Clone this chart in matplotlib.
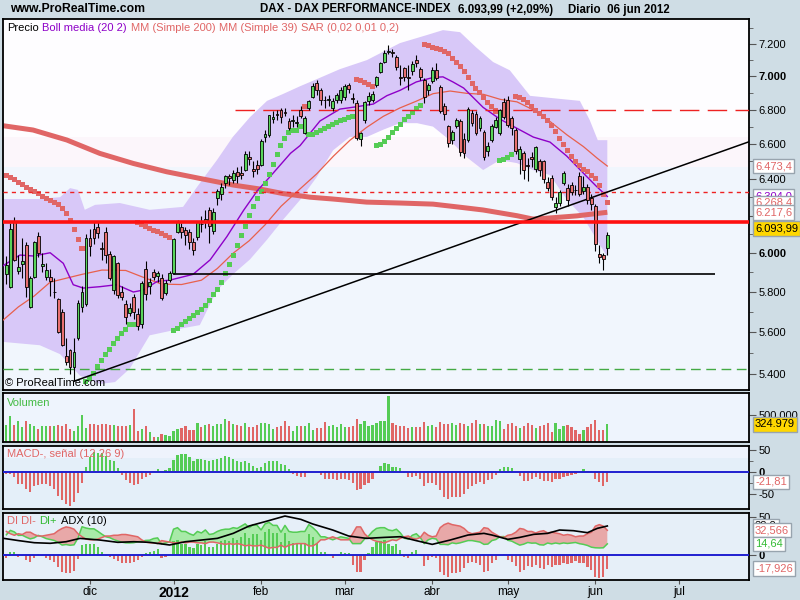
import numpy as np
import matplotlib
matplotlib.use('Agg')
import matplotlib.pyplot as plt
from matplotlib.patches import Rectangle

plt.rcParams['font.family'] = ['Liberation Sans', 'DejaVu Sans']

# ---------------- data (bar index 0 = 2 nov 2011, last = 6 jun 2012) ----------------
open_ = [5890, 5827, 6171, 5905, 5945, 6042, 5727, 5878, 6090, 5935,
         5878, 5875, 5800, 5765, 5700, 5487, 5515, 5433, 5573, 5727,
         5740, 6080, 6130, 6140, 6025, 6110, 5998, 5810, 5950, 5800,
         5740, 5695, 5775, 5690, 5640, 5920, 5830, 5900, 5880, 5870,
         5795, 5860, 5898, 6110, 6140, 6120, 6110, 6060, 6085, 6157,
         6165, 6230, 6115, 6295, 6320, 6380, 6416, 6395, 6440, 6435,
         6450, 6525, 6455, 6480, 6480, 6640, 6650, 6745, 6775, 6795,
         6785, 6730, 6735, 6720, 6800, 6665, 6810, 6877, 6960, 6915,
         6860, 6858, 6810, 6855, 6855, 6877, 6948, 6870, 6840, 6630,
         6740, 6850, 6860, 6950, 7028, 7090, 7150, 7150, 7120, 6995,
         7050, 6995, 7030, 7100, 7045, 6975, 6915, 6970, 7040, 6935,
         6820, 6705, 6620, 6705, 6732, 6628, 6622, 6781, 6773, 6689,
         6670, 6560, 6622, 6699, 6661, 6845, 6857, 6748, 6680, 6511,
         6545, 6482, 6526, 6455, 6501, 6501, 6382, 6405, 6248, 6266,
         6377, 6352, 6367, 6342, 6419, 6335, 6358, 6293, 6253, 5995,
         5990, 6025]
high = [5985, 6160, 6193, 5990, 6080, 6060, 5880, 6064, 6110, 6000,
        5950, 5920, 5870, 5770, 5715, 5570, 5520, 5570, 5760, 5830,
        6100, 6130, 6165, 6165, 6060, 6140, 6010, 5990, 5955, 5830,
        5760, 5745, 5790, 5720, 5855, 5960, 5870, 5915, 5905, 5890,
        5860, 5905, 6080, 6175, 6160, 6140, 6130, 6080, 6170, 6200,
        6230, 6245, 6240, 6345, 6380, 6425, 6430, 6450, 6470, 6475,
        6560, 6560, 6500, 6510, 6625, 6680, 6770, 6790, 6800, 6810,
        6810, 6750, 6770, 6760, 6820, 6760, 6860, 6960, 6980, 6930,
        6880, 6890, 6870, 6900, 6935, 6955, 6960, 6900, 6860, 6670,
        6850, 6905, 6910, 7000, 7090, 7160, 7195, 7170, 7130, 7070,
        7060, 7070, 7095, 7130, 7060, 6990, 6960, 7060, 7085, 6945,
        6840, 6710, 6680, 6750, 6745, 6660, 6815, 6800, 6790, 6765,
        6680, 6610, 6715, 6755, 6805, 6870, 6880, 6765, 6690, 6585,
        6560, 6520, 6555, 6590, 6515, 6510, 6410, 6425, 6300, 6340,
        6445, 6375, 6385, 6365, 6440, 6420, 6375, 6315, 6262, 6045,
        6000, 6110]
low = [5840, 5820, 5960, 5890, 5870, 5776, 5720, 5870, 5980, 5900,
       5860, 5780, 5770, 5595, 5535, 5440, 5400, 5366, 5560, 5700,
       5730, 5985, 6050, 6080, 5965, 5950, 5860, 5790, 5770, 5760,
       5640, 5680, 5665, 5610, 5620, 5760, 5790, 5860, 5850, 5760,
       5785, 5850, 5890, 6105, 6080, 6045, 6020, 5990, 6070, 6110,
       6135, 6055, 6100, 6255, 6285, 6350, 6370, 6380, 6380, 6400,
       6445, 6480, 6410, 6430, 6475, 6610, 6640, 6720, 6740, 6720,
       6760, 6680, 6700, 6700, 6750, 6655, 6800, 6870, 6890, 6830,
       6810, 6820, 6790, 6840, 6840, 6860, 6900, 6840, 6620, 6590,
       6720, 6830, 6845, 6935, 7020, 7080, 7140, 7120, 7040, 6950,
       6970, 6920, 7010, 7060, 6980, 6840, 6890, 6960, 6975, 6780,
       6740, 6580, 6600, 6690, 6530, 6520, 6610, 6705, 6650, 6675,
       6505, 6530, 6610, 6690, 6650, 6745, 6695, 6650, 6540, 6430,
       6400, 6390, 6470, 6440, 6420, 6380, 6335, 6285, 6215, 6250,
       6365, 6250, 6310, 6310, 6305, 6320, 6260, 6230, 6010, 5950,
       5912, 5990]
close = [5938, 6130, 5965, 5930, 5957, 5827, 5870, 6057, 6000, 5945,
         5912, 5855, 5802, 5600, 5540, 5456, 5433, 5505, 5743, 5800,
         6080, 6035, 6080, 6105, 6020, 5990, 5870, 5985, 5785, 5773,
         5675, 5720, 5700, 5633, 5848, 5790, 5853, 5878, 5895, 5772,
         5848, 5898, 6075, 6166, 6111, 6095, 6057, 6017, 6163, 6152,
         6179, 6143, 6220, 6332, 6354, 6416, 6404, 6436, 6419, 6421,
         6539, 6511, 6444, 6458, 6616, 6655, 6766, 6754, 6766, 6755,
         6780, 6692, 6738, 6728, 6765, 6751, 6849, 6943, 6915, 6855,
         6855, 6862, 6854, 6885, 6915, 6941, 6921, 6866, 6633, 6660,
         6843, 6880, 6895, 6995, 7084, 7146, 7158, 7145, 7060, 6990,
         6995, 6990, 7078, 7080, 6995, 6875, 6947, 7040, 6990, 6790,
         6775, 6606, 6670, 6740, 6551, 6545, 6801, 6722, 6664, 6748,
         6522, 6587, 6705, 6738, 6797, 6757, 6709, 6689, 6558, 6568,
         6451, 6473, 6514, 6579, 6451, 6399, 6349, 6302, 6266, 6326,
         6432, 6284, 6330, 6338, 6320, 6358, 6284, 6262, 6047, 5978,
         5969, 6093.99]
volume_k = [321, 475, 321, 383, 271, 383, 333, 290, 247, 290,
            290, 290, 290, 321, 290, 333, 241, 210, 302, 506,
            259, 339, 333, 321, 339, 333, 321, 321, 290, 290,
            302, 309, 617, 210, 247, 290, 185, 93, 86, 148,
            136, 105, 210, 247, 259, 290, 228, 228, 358, 271,
            321, 339, 290, 339, 339, 426, 395, 333, 309, 290,
            358, 284, 271, 321, 352, 346, 339, 241, 271, 290,
            395, 290, 210, 290, 302, 302, 346, 228, 259, 259,
            364, 290, 321, 271, 333, 271, 271, 290, 432, 339,
            395, 302, 321, 352, 395, 395, 858, 352, 321, 290,
            290, 259, 271, 271, 271, 364, 290, 309, 271, 376,
            339, 339, 352, 309, 352, 339, 290, 352, 413, 339,
            333, 290, 302, 413, 383, 247, 333, 352, 290, 259,
            290, 352, 321, 259, 302, 321, 352, 185, 352, 241,
            302, 309, 278, 228, 148, 228, 278, 333, 413, 216,
            216, 324.979]
macd_hist = [-4.5, -4, -11, -26, -27, -38, -44, -32, -29, -27,
             -27, -32, -37, -53, -62, -72, -77, -68, -47, -23,
             11, 35, 46, 44, 43, 37, 28, 26, 9, -6,
             -17, -25, -29, -26, -16, -10, -6, 4, 7, 4,
             5, 10, 28, 39, 41, 41, 35, 26, 30, 29,
             28, 26, 28, 31, 33, 37, 35, 31, 26, 24,
             26, 20, 14, 9, 13, 20, 26, 26, 26, 19,
             17, 8, -4, -8, -11, -10, 0, 0, 0, -5,
             -14, -16, -16, -17, -16, -16, -17, -23, -40, -38,
             -29, -23, -14, 4, 14, 22, 19, 13, 11, 9,
             -2, -10, -10, -8, -15, -30, -23, -23, -29, -40,
             -55, -61, -56, -56, -56, -50, -38, -31, -27, -21,
             -26, -17, -14, -5, 7, 11, 11, 9, 0, -8,
             -19, -19, -16, -11, -16, -19, -19, -21, -16, -14,
             -11, -8, -6, -4, 0, 7, 4, 2, -14, -21,
             -32, -21.81]
di_minus = [31, 28, 26, 28, 27, 30, 30, 27, 25, 25,
            26, 27, 28, 32, 35, 37, 36, 34, 28, 24,
            21, 20, 20, 21, 23, 25, 25, 26, 26, 27,
            27, 26, 25, 24, 20, 17, 16, 16, 15, 19,
            18, 17, 16, 16, 17, 16, 17, 17, 16, 16,
            15, 17, 17, 16, 15, 14, 15, 14, 15, 14,
            12, 13, 12, 12, 13, 11, 9, 10, 10, 13,
            10, 13, 14, 15, 15, 15, 12, 12, 15, 20,
            20, 22, 24, 22, 20, 20, 20, 28, 37, 37,
            28, 23, 20, 18, 17, 16, 18, 20, 19, 22,
            24, 25, 22, 21, 23, 30, 26, 24, 25, 36,
            40, 42, 40, 39, 38, 35, 30, 28, 29, 30,
            36, 35, 30, 27, 24, 23, 26, 27, 30, 35,
            34, 31, 31, 29, 31, 32, 29, 30, 29, 28,
            26, 27, 26, 24, 25, 25, 28, 30, 38, 40,
            38, 32.566]
di_plus = [26.6, 32.4, 30.4, 25.8, 26, 23.4, 21.2, 22.6, 25.9, 24,
           21.6, 20.4, 19.2, 16.6, 13.1, 13.8, 12.8, 13.4, 22.3, 37.2,
           35.5, 34.5, 34.5, 31.1, 27.4, 24, 22.8, 20.3, 18.5, 16.9,
           16, 15.9, 16.2, 17.4, 17.8, 19.2, 19.5, 21.7, 22.5, 14.6,
           15.8, 17.5, 34, 36, 31, 31, 28, 26, 31, 29,
           33, 27, 28, 31, 33, 34, 34, 36, 35, 38,
           41, 36, 40, 39, 33, 41, 43, 39, 39, 30,
           39, 31, 30, 30, 31, 31, 40, 36, 31, 24,
           24, 22, 20, 22, 24, 23, 22, 15, 15, 15,
           21, 25, 31, 35, 36, 36, 33, 32, 34, 29,
           22, 21, 26, 28, 23, 15, 20, 22, 21, 14,
           14, 13.5, 16, 15, 16, 17.5, 19, 19, 18, 17,
           14, 14.4, 19, 20.4, 24, 24.3, 19.4, 18.2, 15.5, 13,
           14.3, 16.5, 15.6, 15.8, 13.5, 13.1, 15.8, 14.6, 15.8, 14.8,
           15.9, 15.2, 15.9, 16.5, 14.9, 14, 12.6, 10.3, 9.5, 9.3,
           9.5, 14.64]
adx_idx = [-0.8, 3, 7, 11, 15, 18.5, 23.5, 28, 32, 36, 41, 45, 49, 53, 57, 61, 65, 70,
           74, 77, 82, 86, 90.5, 95, 99, 103, 107, 111.5, 116, 120, 122, 126, 129,
           132.5, 136, 139, 142.5, 146, 148.5, 151]
adx_val = [22, 19, 16.2, 15.4, 17.5, 21.9, 19.7, 16.7, 17.5, 16.7, 13.2, 17.5, 19.7,
           21.9, 28.5, 38.2, 43.9, 51.3, 46.9, 40.8, 32.9, 25, 21.9, 23.2, 24.1, 18.9,
           14, 19.7, 26.3, 28.5, 26.3, 20.6, 23.2, 27.2, 28.5, 32.9, 32, 29.4, 35.1, 38.2]

bb_up_idx = [-0.8, 8, 13.5, 16, 18, 19.7, 22.3, 28.5, 36, 44.4, 47.9, 52.9, 56.9, 61.2,
             65.5, 69.5, 73.8, 78, 83.8, 90.6, 98.9, 105.7, 109.7, 114, 118, 122.3,
             126.5, 131.6, 139, 144.1, 146.6, 148.6, 151]
bb_up = [6290, 6290, 6300, 6350, 6340, 6231, 6258, 6268, 6231, 6247, 6356, 6507, 6640,
         6755, 6852, 6893, 6940, 6983, 7044, 7100, 7206, 7257, 7288, 7275, 7180, 7088,
         7037, 6882, 6864, 6852, 6737, 6621, 6621]
bb_lo_idx = [-0.8, 8.4, 13.5, 18.5, 23.5, 27.3, 31, 36, 44.4, 48.6, 52.9, 56.9, 61.2,
             65.5, 69.5, 73.8, 78, 82.1, 86.3, 90.6, 94.6, 98.9, 103.2, 107.2, 111.4,
             115.7, 119.8, 124, 128.3, 132.3, 136.6, 140.9, 144.9, 149.1, 151]
bb_lo = [5553, 5537, 5494, 5392, 5353, 5362, 5425, 5585, 5620, 5635, 5808, 5890, 5967,
         6071, 6177, 6285, 6412, 6563, 6640, 6640, 6681, 6720, 6720, 6700, 6621, 6523,
         6451, 6507, 6490, 6451, 6423, 6285, 6193, 6044, 5982]
bb_mid_idx = [-0.8, 3.4, 6.8, 11, 14.3, 16.8, 19.3, 23.5, 27.7, 31.9, 34.4, 38, 41, 46.9,
              51.2, 55.4, 59.6, 63, 66.3, 71.4, 73.8, 78.8, 83.8, 88, 92.2, 95.6, 98.9,
              103, 107.2, 109.7, 112.2, 114.9, 119.8, 124, 128.2, 132.4, 136.6, 140.8,
              145, 148.3, 151]
bb_mid = [5935, 5990, 5985, 6002, 5947, 5837, 5820, 5827, 5837, 5800, 5810, 5855, 5860,
          5890, 5965, 6087, 6228, 6334, 6415, 6546, 6590, 6733, 6803, 6817, 6833, 6883,
          6915, 6966, 6993, 6997, 6966, 6929, 6813, 6744, 6691, 6639, 6610, 6530, 6433,
          6359, 6304]
ma39_idx = [-0.8, 3, 7, 11, 15, 19, 24, 30, 34, 39, 44, 49, 53, 57, 61, 65, 69, 73, 78,
            82.2, 86.3, 90.5, 94.7, 98.9, 103, 107.2, 111.5, 115.7, 119.9, 124.1, 128.3,
            132.5, 136.7, 140.9, 145, 148.5, 151]
ma39 = [5660, 5725, 5780, 5850, 5870, 5890, 5912, 5910, 5878, 5840, 5838, 5860, 5920,
        6000, 6065, 6150, 6250, 6330, 6430, 6530, 6620, 6695, 6760, 6810, 6850, 6895,
        6911, 6897, 6891, 6861, 6846, 6797, 6728, 6651, 6584, 6517, 6473.4]
ma200_idx = [-0.8, 6.7, 15.2, 23.5, 31.9, 40.3, 48.6, 57, 63.7, 69.5, 76.3, 82, 90.5,
             98.9, 107.2, 114, 119.8, 128.3, 132.3, 136.6, 143.3, 151]
ma200 = [6705, 6680, 6622, 6545, 6488, 6441, 6404, 6367, 6345, 6320, 6300, 6290, 6273,
         6268, 6262, 6245, 6230, 6199, 6181, 6187, 6198, 6217.6]
sar_start = 6423            # SAR value on the first bar (short side)
sar_start_ep = 5720         # extreme point of the running down-move at the first bar
sar_params = (0.02, 0.01, 0.2)

# drawn lines: support/resistance levels and trend line
level_thick = 6165
level_dotted = 6330
level_dash_long = 6800
level_dash_long_from = 57.4
level_green = 5424
level_black = 5893
level_black_span = (41.9, 178)
trend_idx = [17, 186.6]
trend_val = [5366, 6612]

month_idx = [21, 42, 64, 85, 107, 126, 148, 169]
month_labels = ['dic', '2012', 'feb', 'mar', 'abr', 'may', 'jun', 'jul']
price_ticks = [5400, 5600, 5800, 6000, 6200, 6400, 6600, 6800, 7000, 7200]

# ---------------- helpers ----------------
open_ = np.array(open_, float); high = np.array(high, float)
low = np.array(low, float); close = np.array(close, float)
volume = np.array(volume_k, float) * 1000
macd_hist = np.array(macd_hist, float)
di_plus = np.array(di_plus, float); di_minus = np.array(di_minus, float)
n = len(close)
x = np.arange(n)


def es(v, d):
    s = f"{v:,.{d}f}"
    return s.replace(',', 'X').replace('.', ',').replace('X', '.')


def psar(hi, lo, start, step, amax, s0, ep0):
    sar = np.empty(len(hi)); tr = np.empty(len(hi), int)
    trend = -1; ep = min(ep0, lo[0]); af = start
    sar[0] = s0; tr[0] = trend
    for i in range(1, len(hi)):
        s = sar[i-1] + af * (ep - sar[i-1])
        if trend > 0:
            s = min(s, lo[i-1], lo[max(i-2, 0)])
            if lo[i] < s:
                trend = -1; s = ep; ep = lo[i]; af = start
            elif hi[i] > ep:
                ep = hi[i]; af = min(af + step, amax)
        else:
            s = max(s, hi[i-1], hi[max(i-2, 0)])
            if hi[i] > s:
                trend = 1; s = ep; ep = hi[i]; af = start
            elif lo[i] < ep:
                ep = lo[i]; af = min(af + step, amax)
        sar[i] = s; tr[i] = trend
    return sar, tr


sar, sar_tr = psar(high, low, *sar_params, sar_start, sar_start_ep)

W, H = 800, 600
BG = '#cfdde5'
GREEN = '#55cc55'
RED = '#e06666'
CG = '#5ad45a'
CR = '#e87070'
PURPLE = '#8e00c8'
fig = plt.figure(figsize=(8, 6), dpi=100, facecolor=BG)


def px_axes(x0, y0, x1, y1):
    a = fig.add_axes([x0 / W, 1 - y1 / H, (x1 - x0) / W, (y1 - y0) / H])
    for sp in a.spines.values():
        sp.set_linewidth(1.3); sp.set_color('black')
    a.set_xlim(-0.85, 186.6)
    a.tick_params(axis='x', bottom=False, labelbottom=False)
    a.yaxis.tick_right()
    a.tick_params(axis='y', which='both', direction='out', colors='#555555',
                  labelcolor='black', labelsize=8, pad=2)
    a.tick_params(axis='y', which='major', length=5)
    a.tick_params(axis='y', which='minor', length=3)
    return a


ax = px_axes(3, 19, 749, 390)
axv = px_axes(3, 393, 749, 442)
axm = px_axes(3, 446, 749, 509)
axd = px_axes(3, 513, 749, 580)

# ---------------- main panel ----------------
ax.set_yscale('log')
ax.set_ylim(5325, 7359)
ax.set_facecolor('#f1f6fd')
ax.add_patch(Rectangle((0, 0.682), 1, 0.318, transform=ax.transAxes, fc='#fefdff', lw=0, zorder=0))
ax.add_patch(Rectangle((0, 0.601), 1, 0.081, transform=ax.transAxes, fc='#fcf6fb', lw=0, zorder=0))

ax.fill(np.r_[bb_up_idx, bb_lo_idx[::-1]], np.r_[bb_up, bb_lo[::-1]], color='#d8c8f8', lw=0, zorder=1)
ax.plot(ma200_idx, ma200, color=RED, lw=3.6, solid_capstyle='butt', zorder=2)
ax.plot(ma39_idx, ma39, color='#e8604c', lw=0.9, zorder=3)
ax.plot(bb_mid_idx, bb_mid, color=PURPLE, lw=1.0, zorder=3)

ax.scatter(x, sar, marker='s', s=13, c=np.where(sar_tr > 0, GREEN, RED), linewidths=0, zorder=4)

ax.axhline(level_green, color='#44aa44', lw=1, dashes=(7, 4), zorder=5)
ax.axhline(level_dotted, color='#ee2222', lw=1, dashes=(3, 3), zorder=5)
ax.hlines(level_dash_long, level_dash_long_from, 186.6, color='#ee2222', lw=1, linestyles=[(0, (14, 6))], zorder=5)
ax.hlines(level_black, *level_black_span, color='black', lw=1.2, zorder=5)
ax.plot(trend_idx, trend_val, color='black', lw=1.1, zorder=5)

up = close >= open_
blo = np.minimum(open_, close); bhi = np.maximum(open_, close)
ax.vlines(x, low, high, color='black', lw=0.8, zorder=6)
ax.bar(x, np.maximum(bhi - blo, 2.5), bottom=blo, width=0.72, color=np.where(up, CG, CR),
       edgecolor='black', linewidth=0.6, zorder=7)
ax.axhline(level_thick, color='#ff1010', lw=2.6, zorder=8)

ax.set_yticks(price_ticks, [es(v, 0) for v in price_ticks])
ax.set_yticks(np.arange(5400, 7400, 100), minor=True)
ax.yaxis.set_minor_formatter(plt.NullFormatter())
for lab in ax.get_yticklabels():
    if lab.get_text() in ('7.000', '6.000'):
        lab.set_fontweight('bold')


def side_label(a, val, text, color, fc='white', va='center', dy=0, z=10):
    a.annotate(text, xy=(1, val), xycoords=('axes fraction', 'data'), xytext=(6, dy),
               textcoords='offset pixels', ha='left', va=va, fontsize=8, color=color,
               zorder=z, annotation_clip=False,
               bbox=dict(boxstyle='square,pad=0.2', fc=fc, ec='#98a4ae', lw=1))


side_label(ax, bb_mid[-1], es(bb_mid[-1], 1), PURPLE, z=9)
side_label(ax, ma39[-1], es(ma39[-1], 1), RED)
side_label(ax, sar[-1], es(sar[-1], 1), RED)
side_label(ax, ma200[-1], es(ma200[-1], 1), RED)
side_label(ax, close[-1], es(close[-1], 2), 'black', fc='#ffd700', va='bottom', dy=2)

ax.text(0.003, 0.005, '\u00a9 ProRealTime.com', transform=ax.transAxes, fontsize=8,
        ha='left', va='bottom', zorder=12)

# ---------------- volume ----------------
axv.set_facecolor('#eef4fd')
axv.bar(x, volume, width=0.55, color=np.where(up, GREEN, RED), zorder=2)
axv.set_ylim(0, 907000)
axv.set_yticks([500000], ['500.000'])
side_label(axv, volume[-1], es(volume[-1], 0), 'black', fc='#ffd700')

# ---------------- MACD ----------------
axm.set_facecolor('#e4eff9')
axm.add_patch(Rectangle((0, 0.81), 1, 0.19, transform=axm.transAxes, fc='#eef3fc', lw=0, zorder=0))
axm.bar(x, macd_hist, width=0.55, color=np.where(macd_hist >= 0, GREEN, RED), zorder=2)
axm.axhline(0, color='#2020d0', lw=1.4, zorder=3)
axm.set_ylim(-82.8, 59.4)
axm.set_yticks([50, 0, -50], ['50', '0', '-50'])
axm.set_yticks([25, -25], minor=True)
axm.yaxis.set_minor_formatter(plt.NullFormatter())
for lab in axm.get_yticklabels():
    if lab.get_text() == '0':
        lab.set_fontweight('bold')
side_label(axm, macd_hist[-1], es(macd_hist[-1], 2), RED)

# ---------------- DI / ADX ----------------
axd.set_facecolor('#e6eff8')
di_hist = di_plus - di_minus
axd.fill_between(x, di_plus, di_minus, where=di_plus >= di_minus, interpolate=True,
                 color='#a8eaa8', lw=0, zorder=1)
axd.fill_between(x, di_plus, di_minus, where=di_plus < di_minus, interpolate=True,
                 color='#e8a8a8', lw=0, zorder=1)
axd.bar(x, di_hist, width=0.55, color=np.where(di_hist >= 0, GREEN, RED), zorder=2)
axd.plot(x, di_plus, color=GREEN, lw=1.1, zorder=3)
axd.plot(x, di_minus, color=RED, lw=1.1, zorder=3)
axd.plot(adx_idx, adx_val, color='black', lw=1.2, zorder=4)
axd.axhline(0, color='#2020d0', lw=1.4, zorder=3)
axd.set_ylim(-32.9, 55.3)
axd.set_yticks([50, 0], ['50', '0'])
for lab in axd.get_yticklabels():
    if lab.get_text() == '0':
        lab.set_fontweight('bold')
side_label(axd, adx_val[-1], es(adx_val[-1], 1), 'black', z=9)
side_label(axd, di_minus[-1], es(di_minus[-1], 3), RED)
side_label(axd, di_plus[-1], es(di_plus[-1], 2), '#33bb33')
side_label(axd, di_hist[-1], es(di_hist[-1], 3), RED)

axd.tick_params(axis='x', bottom=True, labelbottom=True, direction='out', length=3,
                colors='#555555', labelcolor='black', labelsize=8.5, pad=1)
axd.set_xticks(month_idx, month_labels)
for lab in axd.get_xticklabels():
    if lab.get_text() == '2012':
        lab.set_fontweight('bold'); lab.set_fontsize(10)

# ---------------- texts ----------------
def ftext(xp, yp, s, **kw):
    return fig.text(xp / W, 1 - yp / H, s, **kw)


ftext(10, 9.5, 'www.ProRealTime.com', fontsize=8.8, fontweight='bold', va='center')
chg = (close[-1] / close[-2] - 1) * 100
ftext(260, 9.5, 'DAX - DAX PERFORMANCE-INDEX', fontsize=8.3, fontweight='bold', va='center')
ftext(458, 9.5, f"{es(close[-1], 2)} ({'+' if chg >= 0 else ''}{es(chg, 2)}%)", fontsize=8.3,
      fontweight='bold', va='center')
ftext(568, 9.5, 'Diario  06 jun 2012', fontsize=8.3, fontweight='bold', va='center')

renderer = fig.canvas.get_renderer()


def chain(x0, ybase, pieces):
    xp = x0
    for s, c in pieces:
        t = ftext(xp, ybase, s, color=c, fontsize=8, va='baseline', ha='left', zorder=20)
        xp += t.get_window_extent(renderer=renderer).width + 3.6


chain(7, 31, [('Precio', 'black'), ('Boll media (20 2)', PURPLE), ('MM (Simple 200)', RED),
              ('MM (Simple 39)', RED), ('SAR (0,02 0,01 0,2)', RED)])
chain(7, 406, [('Volumen', '#44bb44')])
chain(7, 457, [('MACD-, se\u00f1al (12 26 9)', RED)])
chain(7, 524.5, [('DI DI-', RED), ('DI+', '#33bb33'), ('ADX (10)', 'black')])

fig.savefig('out.png', dpi=100, facecolor=BG)
